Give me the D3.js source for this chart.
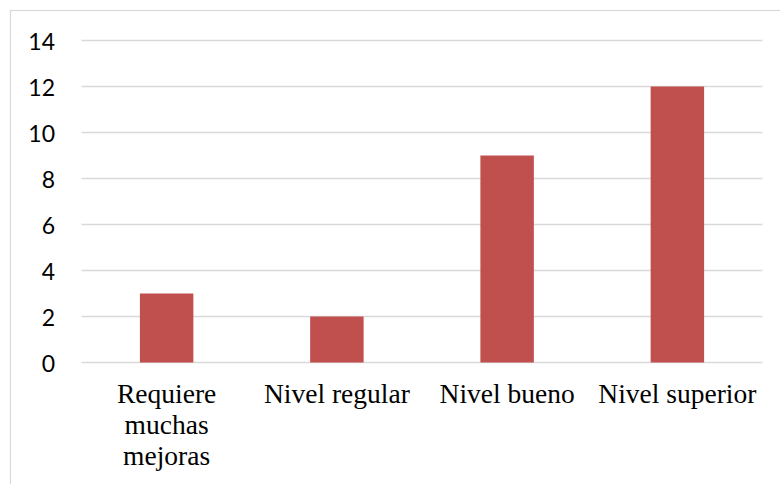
<!DOCTYPE html>
<html>
<head>
<meta charset="utf-8">
<script src="https://cdn.jsdelivr.net/npm/d3@7"></script>
<style>
  html, body { margin: 0; padding: 0; background: #fff; }
  svg { display: block; }
  .cat { font-family: "Liberation Serif", "DejaVu Serif", "Times New Roman", serif; }
  .tick { font-family: Lato, "Open Sans", sans-serif; }
</style>
</head>
<body>
<svg id="chart" width="780" height="484"></svg>
<script>
const categories = [["Requiere", "muchas", "mejoras"], ["Nivel regular"], ["Nivel bueno"], ["Nivel superior"]];
const values = [3, 2, 9, 12];
const yTicks = [0, 2, 4, 6, 8, 10, 12, 14];

(function () {
const svg = d3.select("#chart");
const plotLeft = 81.5, plotRight = 762.5, plotTop = 40.5, plotBottom = 362.5;

// outer chart border (cropped at right/bottom)
svg.append("rect")
  .attr("x", 10.5).attr("y", 10.5)
  .attr("width", 820).attr("height", 520)
  .attr("fill", "none").attr("stroke", "#d9d9d9").attr("stroke-width", 1.2);

const keys = categories.map((c, i) => i);
const x = d3.scaleBand().domain(keys).range([plotLeft, plotRight]).paddingInner(0.686).paddingOuter(0.343);
const y = d3.scaleLinear().domain([0, 14]).range([plotBottom, plotTop]);

// gridlines
svg.append("g").selectAll("line").data(yTicks).join("line")
  .attr("x1", plotLeft).attr("x2", plotRight)
  .attr("y1", d => y(d)).attr("y2", d => y(d))
  .attr("stroke", "#d9d9d9").attr("stroke-width", 1.4);

// y tick labels
svg.append("g").selectAll("text").data(yTicks).join("text")
  .attr("class", "tick")
  .attr("x", 55).attr("y", d => y(d))
  .attr("text-anchor", "end").attr("dominant-baseline", "central")
  .attr("font-size", 23).attr("fill", "#000")
  .text(d => d);

// bars
svg.append("g").selectAll("rect").data(values).join("rect")
  .attr("x", (d, i) => x(i)).attr("width", x.bandwidth())
  .attr("y", d => y(d)).attr("height", d => y(0) - y(d))
  .attr("fill", "#C0504D");

// category labels
const lab = svg.append("g").selectAll("text").data(categories).join("text")
  .attr("class", "cat")
  .attr("x", (d, i) => x(i) + x.bandwidth() / 2)
  .attr("y", 403)
  .attr("text-anchor", "middle")
  .attr("font-size", 27.5).attr("fill", "#000");
lab.each(function (d, i) {
  const t = d3.select(this);
  d.forEach((line, j) => {
    t.append("tspan")
      .attr("x", x(i) + x.bandwidth() / 2)
      .attr("dy", j === 0 ? 0 : 31)
      .text(line);
  });
});
})();
</script>
</body>
</html>
